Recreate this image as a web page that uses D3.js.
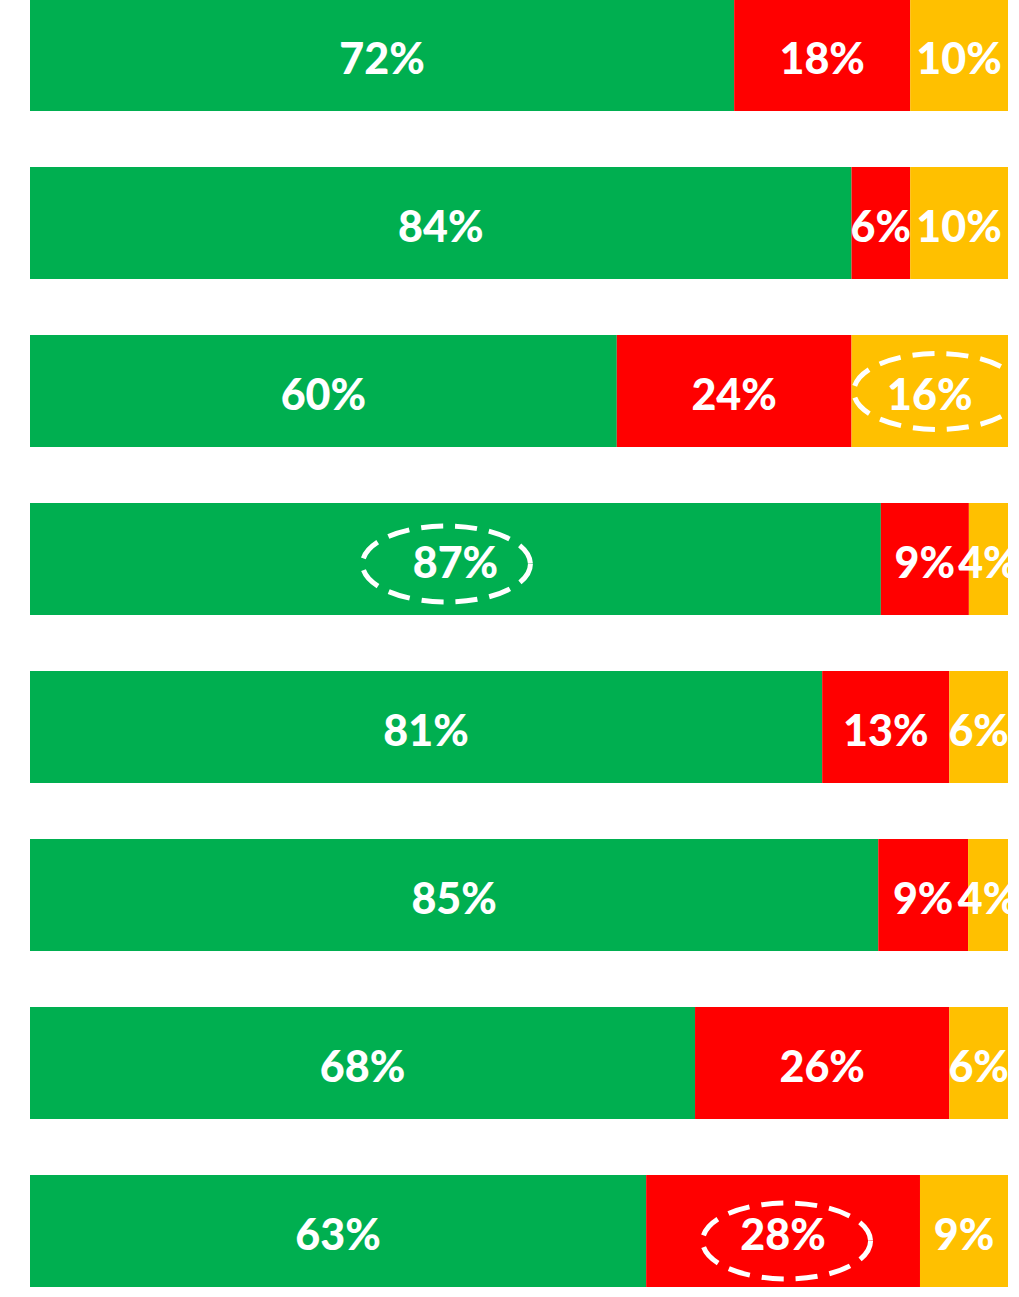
<!DOCTYPE html>
<html><head><meta charset="utf-8">
<script src="https://cdn.jsdelivr.net/npm/d3@7"></script>
<style>html,body{margin:0;padding:0;background:#fff;}svg{display:block;}</style>
</head><body>
<div id="chart"></div>
<script>
const rows = ["r1","r2","r3","r4","r5","r6","r7","r8"];
const seriesNames = ["positive","negative","neutral"];
const positive = [72,84,60,87,81,85,68,63];
const negative = [18,6,24,9,13,9,26,28];
const neutral  = [10,10,16,4,6,4,6,9];
const seriesColors = ["#00AF50","#FF0000","#FFC000"];
// highlighted labels: row index, series index
const highlightRow = [2,3,7];
const highlightSeries = [2,0,1];

const W = 1008, H = 1297;
const svg = d3.select("#chart").append("svg").attr("width", W).attr("height", H);

const data = rows.map((r,i)=>{
  const vals = [positive[i],negative[i],neutral[i]];
  const total = d3.sum(vals);
  let acc = 0;
  return vals.map((v,j)=>{ const s = {row:r, ri:i, si:j, v, x0:acc/total, x1:(acc+v)/total}; acc+=v; return s; });
});

const x = d3.scaleLinear().domain([0,1]).range([30,1008]);
const y = d3.scaleBand().domain(rows).range([-1,1287]).paddingInner(56/168).paddingOuter(0);

const g = svg.append("g");
const rowG = g.selectAll("g.row").data(data).join("g").attr("class","row");
rowG.selectAll("rect").data(d=>d).join("rect")
  .attr("x", d=>x(d.x0)).attr("width", d=>x(d.x1)-x(d.x0))
  .attr("y", d=>y(d.row)).attr("height", y.bandwidth())
  .attr("fill", d=>seriesColors[d.si]);
rowG.selectAll("text").data(d=>d).join("text")
  .attr("x", d=>(x(d.x0)+x(d.x1))/2)
  .attr("y", d=>y(d.row)+y.bandwidth()/2+2)
  .attr("text-anchor","middle").attr("dominant-baseline","central")
  .attr("fill","#fff").attr("font-family","Lato, sans-serif").attr("font-weight",900)
  .attr("font-size",43)
  .text(d=>d.v+"%");

// dashed ellipses around highlighted labels
const ellOffsets = [[8,0.5],[-9,5],[3.5,10]];
highlightRow.forEach((ri,k)=>{
  const seg = data[ri][highlightSeries[k]];
  g.append("ellipse")
    .attr("cx", (x(seg.x0)+x(seg.x1))/2 + ellOffsets[k][0])
    .attr("cy", y(seg.row)+y.bandwidth()/2 + ellOffsets[k][1])
    .attr("rx", 84).attr("ry", 38)
    .attr("fill","none").attr("stroke","#fff").attr("stroke-width",5)
    .attr("stroke-dasharray","22 12");
});
</script>
</body></html>
